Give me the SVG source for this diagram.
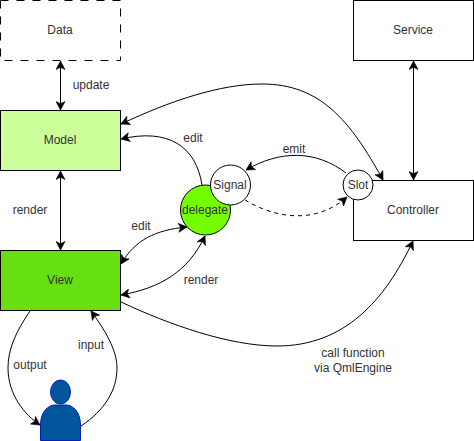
<svg xmlns="http://www.w3.org/2000/svg" width="474" height="441" viewBox="0 0 474 441">
<style>
text{font-family:"Liberation Sans",Arial,sans-serif;font-size:12px;fill:#333;text-anchor:middle}
.n{stroke:#000;stroke-width:1;fill:#fff}
.c{fill:none;stroke:#000;stroke-width:1}
</style>
<defs>
<marker id="a" viewBox="0 0 10 10" refX="9.500" refY="5" markerWidth="10" markerHeight="10" markerUnits="userSpaceOnUse" orient="auto-start-reverse"><path d="M1 0.500L9.500 5L1 9.500L3.200 5Z" fill="#000" stroke="#000" stroke-width="0.600"/></marker>
</defs>
<rect width="474" height="441" fill="#fff"/>
<g id="connectors">
<path class="c" d="M60.500 61V110" marker-start="url(#a)" marker-end="url(#a)"/>
<path class="c" d="M60.500 171V250" marker-start="url(#a)" marker-end="url(#a)"/>
<path class="c" d="M413.500 61V180" marker-start="url(#a)" marker-end="url(#a)"/>
<path class="c" d="M121 124C170 101 220 84 262 84C320 84 350 120 383 180" marker-start="url(#a)" marker-end="url(#a)"/>
<path class="c" d="M202 185C196 146 168 128 121 139" marker-end="url(#a)"/>
<path class="c" d="M121 264C135 240 155 230 187 227" marker-start="url(#a)" marker-end="url(#a)"/>
<path class="c" d="M121 295C160 288 188 272 205 236" marker-start="url(#a)" marker-end="url(#a)"/>
<path class="c" d="M121 302C170 325 230 346 277 346C345 346 385 300 413 241" marker-end="url(#a)"/>
<path class="c" d="M346 173C316 150 280 150 246 170" marker-end="url(#a)"/>
<path class="c" d="M245 200C275 218 315 225 347 197" stroke-dasharray="4 4" marker-end="url(#a)"/>
<path class="c" d="M30 311C15 333 8 350 8 368C8 395 25 415 40 425" marker-end="url(#a)"/>
<path class="c" d="M81 426C105 410 117 390 117 368C117 350 105 330 91 311" marker-end="url(#a)"/>
</g>
<g id="data"><rect class="n" x="0.500" y="0.500" width="120" height="60" stroke-dasharray="8 8"/><text x="60" y="34">Data</text></g>
<g id="service"><rect class="n" x="353.500" y="0.500" width="120" height="60"/><text x="413" y="34">Service</text></g>
<g id="model"><rect class="n" x="0.500" y="110.500" width="120" height="60" style="fill:#ccff99"/><text x="60" y="144">Model</text></g>
<g id="view"><rect class="n" x="0.500" y="250.500" width="120" height="60" style="fill:#66e013"/><text x="60" y="284">View</text></g>
<g id="controller"><rect class="n" x="353.500" y="180.500" width="120" height="60"/><text x="413" y="214">Controller</text></g>
<g id="delegate"><circle class="n" cx="205.500" cy="210" r="25" style="fill:#73ff00"/><text x="205" y="214">delegate</text></g>
<g id="signal"><circle class="n" cx="230.500" cy="185" r="20"/><text x="230" y="189">Signal</text></g>
<g id="slot"><circle class="n" cx="358" cy="185" r="15"/><text x="358" y="189">Slot</text></g>
<g id="user"><ellipse cx="60.500" cy="392" rx="10" ry="12" fill="#00559b" stroke="#001dbc"/><path d="M40.500 440.500V425C40.500 412 48 405 55 405H66C73 405 80.500 412 80.500 425V440.500Z" fill="#00559b" stroke="#001dbc"/></g>
<g id="labels">
<text x="91" y="89">update</text>
<text x="30" y="214">render</text>
<text x="193" y="142">edit</text>
<text x="294" y="153">emit</text>
<text x="141" y="230">edit</text>
<text x="201" y="284">render</text>
<text x="91" y="349">input</text>
<text x="30" y="369">output</text>
<text x="353" y="357">call function</text>
<text x="353" y="372">via QmlEngine</text>
</g>
</svg>
